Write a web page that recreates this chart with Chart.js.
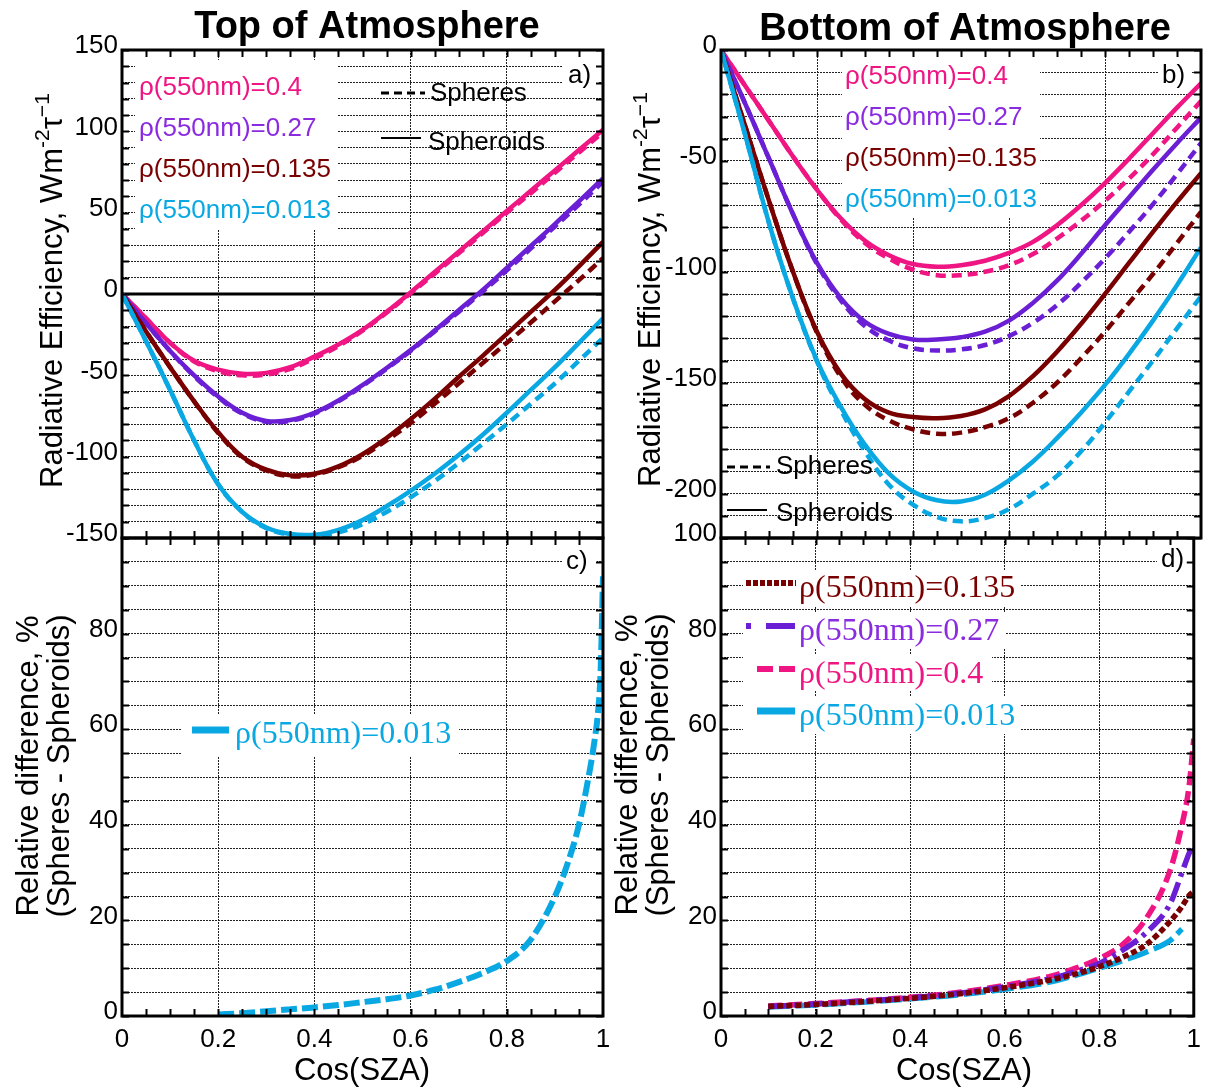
<!DOCTYPE html>
<html>
<head>
<meta charset="utf-8">
<title>Radiative efficiency vs Cos(SZA)</title>
<script src="https://cdn.jsdelivr.net/npm/chart.js@4.4.1/dist/chart.umd.min.js"></script>
<style>
  body { margin: 0; background: #fff; }
  #wrap { position: relative; width: 1209px; height: 1088px; }
  #wrap canvas { position: absolute; left: 0; top: 0; }
</style>
</head>
<body>
<div id="wrap">
  <canvas id="toa" width="1209" height="1088"></canvas>
  <canvas id="boa" width="1209" height="1088"></canvas>
  <canvas id="diffToa" width="1209" height="1088"></canvas>
  <canvas id="diffBoa" width="1209" height="1088"></canvas>
</div>
<script>
// ---- data ----
const cosSza = [0, 0.05, 0.1, 0.15, 0.2, 0.25, 0.3, 0.35, 0.4, 0.45, 0.5, 0.55, 0.6, 0.65, 0.7, 0.75, 0.8, 0.85, 0.9, 0.95, 1];

// Top of atmosphere efficiency, W m-2 per unit AOD
const toaSpheroidPink    = [0, -15, -30, -41, -46.5, -49, -48.5, -45, -38.5, -31, -22, -11, 1, 13.5, 26, 38.5, 51, 63.5, 76, 88.5, 101];
const toaSpherePink      = [0, -15, -30, -41.5, -47.5, -50, -49.5, -46, -39.5, -32, -22.5, -11.5, 0.5, 12.5, 25, 37.5, 50, 62, 74.5, 87, 99.5];
const toaSpheroidPurple  = [0, -18, -35, -50, -63, -73, -78, -77.5, -73, -65.5, -56, -45.5, -34.5, -22.5, -10, 2.5, 16, 29.5, 43, 57, 71];
const toaSpherePurple    = [0, -18, -35, -50.5, -63.5, -73.5, -78.5, -78, -73.5, -66, -56.5, -46, -35, -23, -11, 1.5, 14.5, 28, 41.5, 55, 69];
const toaSpheroidDarkred = [0, -23, -45, -66, -85, -100, -108, -111.5, -110.5, -106, -98.5, -88.5, -77, -64.5, -51, -38, -24.5, -11, 2.5, 17, 32];
const toaSphereDarkred   = [0, -23, -45, -66, -85.5, -100.5, -108.5, -112, -111, -106.5, -99.5, -90, -79.5, -67.5, -55, -42.5, -30, -17.5, -4.5, 8.5, 22];
const toaSpheroidCyan    = [0, -29, -59, -90, -117, -134, -143.5, -147.5, -148, -145, -139, -130.5, -121, -110.5, -99, -86.5, -73, -59, -45, -30, -15];
const toaSphereCyan      = [0, -29, -59, -90, -117, -134, -144, -148, -149, -146.5, -141.5, -134, -125, -115, -104, -92, -80, -67.5, -55, -41, -27];

// Bottom of atmosphere efficiency
const boaSpheroidPink    = [0, -16, -32, -48, -63, -76, -86, -92.5, -96.5, -97.7, -97, -95, -91.5, -86.5, -79, -70, -60, -49, -37.5, -26, -15];
const boaSpherePink      = [0, -16, -32, -48, -63, -76.5, -87, -94, -99, -101.5, -101.5, -100, -97, -92, -85, -77, -68, -58, -47, -35, -23];
const boaSpheroidPurple  = [0, -24, -49, -74, -96, -112, -122.5, -128, -130.5, -130.5, -129.5, -127, -122, -114, -104, -92, -79, -66.5, -54, -42, -30.5];
const boaSpherePurple    = [0, -24, -49, -74, -96.5, -113, -124.5, -131, -134.5, -135.5, -135, -133, -129, -123, -115, -105, -94, -82, -69.5, -56, -42];
const boaSpheroidDarkred = [0, -34, -68, -100, -127, -146, -157.5, -163.5, -165.5, -166, -165, -162, -156, -147, -136, -123.5, -110, -96, -82, -68.5, -55.5];
const boaSphereDarkred   = [0, -34, -68, -100, -127.5, -147.5, -160, -167, -171, -173, -172.5, -170, -166, -159, -150, -139, -127, -114, -101, -87, -73];
const boaSpheroidCyan    = [0, -38, -78, -112, -140, -161, -178, -191, -199, -203, -203.5, -200.5, -194, -185.5, -175, -163.5, -151, -137, -122, -106, -89];
const boaSphereCyan      = [0, -38, -78, -112, -140.5, -162.5, -181, -196, -205, -210.5, -212.5, -211, -207, -200, -192, -181, -168, -154, -140, -125.5, -111];

// Relative difference (spheres - spheroids), %
const cosDiffToa  = [0.2, 0.25, 0.3, 0.35, 0.4, 0.45, 0.5, 0.55, 0.6, 0.65, 0.7, 0.75, 0.8, 0.85, 0.9, 0.925, 0.95, 0.97, 0.98, 0.99, 0.995, 1];
const diffToaCyan = [0.3, 0.6, 1.0, 1.4, 1.8, 2.3, 2.9, 3.5, 4.3, 5.5, 7.1, 9.0, 11.5, 16, 25, 31.5, 40, 50, 56, 64, 72, 92];

const cosDiffBoa     = [0.1, 0.2, 0.3, 0.4, 0.5, 0.6, 0.7, 0.75, 0.8, 0.85, 0.9, 0.95, 0.975, 0.99, 1];
const diffBoaDarkred = [2.0, 2.4, 3.0, 3.7, 4.6, 5.9, 7.6, 8.8, 10.3, 12.3, 15, 19.8, 22.9, 25.2, 26];
const diffBoaPurple  = [2.0, 2.5, 3.1, 3.8, 4.7, 6.1, 7.9, 9.3, 11, 13.8, 17.5, 23.5, 30, 34, 36];
const diffBoaPink    = [2.1, 2.6, 3.2, 3.9, 4.9, 6.4, 8.4, 10, 12, 15, 20.5, 30.5, 40, 48, 58];
const diffBoaCyan    = [1.9, 2.3, 2.9, 3.6, 4.4, 5.6, 7.2, 8.5, 10, 11.6, 13.4, 15.8, 18.2, null, null];

// tick labels
const cosTickLabels  = [0, 0.2, 0.4, 0.6, 0.8, 1];
const toaYLabels     = [150, 100, 50, 0, -50, -100, -150];
const boaYLabels     = [0, -50, -100, -150, -200];
const diffToaYLabels = [0, 20, 40, 60, 80];
const diffBoaYLabels = [0, 20, 40, 60, 80, 100];

const albedoNames = ["ρ(550nm)=0.4", "ρ(550nm)=0.27", "ρ(550nm)=0.135", "ρ(550nm)=0.013"];

// ---- styles ----
const SANS = '"Liberation Sans", Arial, Helvetica, sans-serif';
const SERIF = '"Liberation Serif", "Times New Roman", serif';
const PINK = "#ef1583", PURPLE = "#6a1fd5", DARKRED = "#790000", CYAN = "#0aa8e2";
const PURPLE_TEXT = "#8b2be0";
const SPHERE_DASH = [10, 6];

Chart.defaults.font.family = SANS;
Chart.defaults.color = "#000";

const PAGE_W = 1209, PAGE_H = 1088;
const Y_AXIS_W = 122, X_AXIS_H = 72;

function curve(xs, ys, color, extra) {
  return Object.assign({
    data: xs.map((x, i) => ({ x: x, y: ys[i] })),
    borderColor: color,
    borderWidth: 4.5,
    borderDash: [],
    borderCapStyle: "butt",
    fill: false,
    pointRadius: 0,
    tension: 0.4
  }, extra || {});
}

// text pieces drawn left to right, optionally rotated to read bottom-up
function drawParts(ctx, t) {
  ctx.save();
  ctx.translate(t.x, t.y);
  if (t.rotate) ctx.rotate(-Math.PI / 2);
  ctx.textBaseline = "alphabetic";
  ctx.textAlign = "left";
  const parts = t.parts || [{ text: t.text, font: t.font }];
  let total = 0;
  parts.forEach(p => { ctx.font = p.font || t.font; total += ctx.measureText(p.text).width; });
  let cx = t.align === "center" ? -total / 2 : 0;
  parts.forEach(p => {
    ctx.font = p.font || t.font;
    ctx.fillStyle = t.color || "#000";
    ctx.fillText(p.text, cx, -(p.rise || 0));
    cx += ctx.measureText(p.text).width;
  });
  ctx.restore();
}

function panelDecor(p) {
  return {
    id: "panelDecor",
    beforeDatasetsDraw(chart) {
      const ctx = chart.ctx;
      const a = chart.chartArea;
      ctx.save();
      ctx.fillStyle = "#fff";
      (p.boxes || []).forEach(b => ctx.fillRect(b[0], b[1], b[2] - b[0], b[3] - b[1]));
      if (p.zeroLine) {
        const y0 = chart.scales.y.getPixelForValue(0);
        ctx.strokeStyle = "#000";
        ctx.lineWidth = 3;
        ctx.beginPath();
        ctx.moveTo(a.left, y0);
        ctx.lineTo(a.right, y0);
        ctx.stroke();
      }
      ctx.restore();
    },
    afterDraw(chart) {
      const ctx = chart.ctx;
      const a = chart.chartArea;
      const xs = chart.scales.x, ys = chart.scales.y;
      ctx.save();
      ctx.strokeStyle = "#000";
      // minor ticks along top and bottom, ticks at every y grid line
      ctx.lineWidth = 2;
      ctx.beginPath();
      for (let k = 1; k < 20; k++) {
        const px = Math.round(xs.getPixelForValue(k / 20)) + 0.5;
        ctx.moveTo(px, a.top); ctx.lineTo(px, a.top + 7);
        ctx.moveTo(px, a.bottom); ctx.lineTo(px, a.bottom - 7);
      }
      ys.ticks.forEach(t => {
        const py = Math.round(ys.getPixelForValue(t.value)) + 0.5;
        ctx.moveTo(a.left, py); ctx.lineTo(a.left + 7, py);
        ctx.moveTo(a.right, py); ctx.lineTo(a.right - 7, py);
      });
      ctx.stroke();
      // frame
      ctx.lineWidth = 3;
      ctx.strokeRect(a.left, a.top, a.right - a.left, a.bottom - a.top);
      // legend samples
      (p.samples || []).forEach(s => {
        ctx.strokeStyle = s.color;
        ctx.lineWidth = s.width;
        ctx.setLineDash(s.dash || []);
        ctx.beginPath();
        ctx.moveTo(s.x1, s.y);
        ctx.lineTo(s.x2, s.y);
        ctx.stroke();
      });
      ctx.setLineDash([]);
      ctx.restore();
      (p.texts || []).forEach(t => drawParts(ctx, t));
    }
  };
}

function drawPanel(id, p) {
  return new Chart(document.getElementById(id), {
    type: "line",
    data: { datasets: p.datasets },
    options: {
      responsive: false,
      animation: false,
      devicePixelRatio: 1,
      layout: {
        padding: {
          left: p.area.left - Y_AXIS_W,
          top: p.area.top,
          right: PAGE_W - p.area.right,
          bottom: PAGE_H - p.area.bottom - (p.xLabels ? X_AXIS_H : 0)
        }
      },
      plugins: { legend: { display: false }, tooltip: { enabled: false } },
      scales: {
        x: {
          type: "linear",
          min: 0,
          max: 1,
          afterFit: s => { s.height = p.xLabels ? X_AXIS_H : 0; },
          grid: { color: "#222", lineWidth: 1, drawTicks: false },
          border: { display: false, dash: [2, 1] },
          ticks: {
            display: p.xLabels,
            stepSize: 0.2,
            autoSkip: false,
            maxRotation: 0,
            padding: 8,
            font: { size: 26 },
            callback: v => {
              const r = Math.round(v * 10) / 10;
              return cosTickLabels.includes(r) ? String(r) : "";
            }
          }
        },
        y: {
          type: "linear",
          min: p.yMin,
          max: p.yMax,
          afterFit: s => { s.width = Y_AXIS_W; },
          grid: { color: "#222", lineWidth: 1, drawTicks: false },
          border: { display: false, dash: [2, 1] },
          ticks: {
            stepSize: p.yStep,
            autoSkip: false,
            padding: 4,
            labelOffset: -4,
            font: { size: 26 },
            callback: v => (p.yLabels.includes(v) ? String(v) : "")
          }
        }
      }
    },
    plugins: [panelDecor(p)]
  });
}

const TITLE_FONT = "bold 38px " + SANS;
const AXIS_FONT = "31px " + SANS;
const SUP_FONT = "21px " + SANS;
const LEG_FONT = "26px " + SANS;
const SERIF_FONT = "32px " + SERIF;

function efficiencyTitle(x, y) {
  return {
    x: x, y: y, rotate: true, font: AXIS_FONT,
    parts: [
      { text: "Radiative Efficiency, Wm", font: AXIS_FONT },
      { text: "-2", font: SUP_FONT, rise: 13 },
      { text: "τ", font: AXIS_FONT },
      { text: "−1", font: SUP_FONT, rise: 13 }
    ]
  };
}

// (a) top of atmosphere
drawPanel("toa", {
  area: { left: 122, top: 50, right: 603, bottom: 538 },
  xLabels: false,
  yMin: -150, yMax: 150, yStep: 10, yLabels: toaYLabels,
  zeroLine: true,
  datasets: [
    curve(cosSza, toaSpheroidCyan, CYAN),
    curve(cosSza, toaSphereCyan, CYAN, { borderDash: SPHERE_DASH }),
    curve(cosSza, toaSpheroidDarkred, DARKRED),
    curve(cosSza, toaSphereDarkred, DARKRED, { borderDash: SPHERE_DASH }),
    curve(cosSza, toaSpheroidPurple, PURPLE),
    curve(cosSza, toaSpherePurple, PURPLE, { borderDash: SPHERE_DASH }),
    curve(cosSza, toaSpheroidPink, PINK),
    curve(cosSza, toaSpherePink, PINK, { borderDash: SPHERE_DASH })
  ],
  boxes: [[135, 60, 338, 229], [563, 60, 598, 92]],
  samples: [
    { x1: 381, x2: 425, y: 93, color: "#000", width: 3, dash: [8, 5] },
    { x1: 381, x2: 421, y: 138, color: "#000", width: 2 }
  ],
  texts: [
    { text: "Top of Atmosphere", x: 367, y: 38, font: TITLE_FONT, align: "center" },
    efficiencyTitle(62, 488),
    { text: albedoNames[0], x: 139, y: 95, font: LEG_FONT, color: PINK },
    { text: albedoNames[1], x: 139, y: 136, font: LEG_FONT, color: PURPLE_TEXT },
    { text: albedoNames[2], x: 139, y: 177, font: LEG_FONT, color: DARKRED },
    { text: albedoNames[3], x: 139, y: 218, font: LEG_FONT, color: CYAN },
    { text: "Spheres", x: 430, y: 101, font: LEG_FONT },
    { text: "Spheroids", x: 428, y: 150, font: LEG_FONT },
    { text: "a)", x: 568, y: 83, font: LEG_FONT }
  ]
});

// (b) bottom of atmosphere
drawPanel("boa", {
  area: { left: 721, top: 50, right: 1201, bottom: 538 },
  xLabels: false,
  yMin: -220, yMax: 0, yStep: 10, yLabels: boaYLabels,
  datasets: [
    curve(cosSza, boaSpheroidCyan, CYAN),
    curve(cosSza, boaSphereCyan, CYAN, { borderDash: SPHERE_DASH }),
    curve(cosSza, boaSpheroidDarkred, DARKRED),
    curve(cosSza, boaSphereDarkred, DARKRED, { borderDash: SPHERE_DASH }),
    curve(cosSza, boaSpheroidPurple, PURPLE),
    curve(cosSza, boaSpherePurple, PURPLE, { borderDash: SPHERE_DASH }),
    curve(cosSza, boaSpheroidPink, PINK),
    curve(cosSza, boaSpherePink, PINK, { borderDash: SPHERE_DASH })
  ],
  boxes: [[842, 56, 1040, 218], [1158, 58, 1192, 92]],
  samples: [
    { x1: 727, x2: 770, y: 467, color: "#000", width: 3, dash: [8, 5] },
    { x1: 727, x2: 767, y: 510, color: "#000", width: 2 }
  ],
  texts: [
    { text: "Bottom of Atmosphere", x: 965, y: 40, font: TITLE_FONT, align: "center" },
    efficiencyTitle(660, 487),
    { text: albedoNames[0], x: 845, y: 84, font: LEG_FONT, color: PINK },
    { text: albedoNames[1], x: 845, y: 125, font: LEG_FONT, color: PURPLE_TEXT },
    { text: albedoNames[2], x: 845, y: 166, font: LEG_FONT, color: DARKRED },
    { text: albedoNames[3], x: 845, y: 207, font: LEG_FONT, color: CYAN },
    { text: "Spheres", x: 776, y: 474, font: LEG_FONT },
    { text: "Spheroids", x: 776, y: 521, font: LEG_FONT },
    { text: "b)", x: 1162, y: 83, font: LEG_FONT }
  ]
});

// (c) relative difference at top of atmosphere
drawPanel("diffToa", {
  area: { left: 122, top: 538, right: 603, bottom: 1016 },
  xLabels: true,
  yMin: 0, yMax: 100, yStep: 5, yLabels: diffToaYLabels,
  datasets: [
    curve(cosDiffToa, diffToaCyan, CYAN, { borderWidth: 6, borderDash: [16, 5], tension: 0, cubicInterpolationMode: "monotone" })
  ],
  boxes: [[182, 714, 459, 757], [562, 546, 597, 578]],
  samples: [
    { x1: 192, x2: 229, y: 730, color: CYAN, width: 7 }
  ],
  texts: [
    { text: "Relative difference, %", x: 38, y: 766, rotate: true, font: AXIS_FONT, align: "center" },
    { text: "(Spheres - Spheroids)", x: 69, y: 766, rotate: true, font: AXIS_FONT, align: "center" },
    { text: "Cos(SZA)", x: 362, y: 1080, font: AXIS_FONT, align: "center" },
    { text: albedoNames[3], x: 235, y: 743, font: SERIF_FONT, color: CYAN },
    { text: "c)", x: 566, y: 569, font: LEG_FONT }
  ]
});

// (d) relative difference at bottom of atmosphere
const DOT_DASH = [6, 3];
const DASH_DOT = [20, 6, 4, 6];
const PINK_DASH = [14, 6];
const LONG_DASH = [22, 6];
const boaDiffStyle = { borderWidth: 5.5, tension: 0, cubicInterpolationMode: "monotone" };
drawPanel("diffBoa", {
  area: { left: 721, top: 538, right: 1201, bottom: 1016 },
  xLabels: true,
  yMin: 0, yMax: 100, yStep: 5, yLabels: diffBoaYLabels,
  datasets: [
    curve(cosDiffBoa, diffBoaDarkred, DARKRED, Object.assign({ borderDash: DOT_DASH }, boaDiffStyle)),
    curve(cosDiffBoa, diffBoaPurple, PURPLE, Object.assign({ borderDash: DASH_DOT }, boaDiffStyle)),
    curve(cosDiffBoa, diffBoaPink, PINK, Object.assign({ borderDash: PINK_DASH }, boaDiffStyle)),
    curve(cosDiffBoa, diffBoaCyan, CYAN, Object.assign({ borderDash: LONG_DASH }, boaDiffStyle))
  ],
  boxes: [
    [743, 570, 1020, 606], [743, 612, 1006, 648],
    [743, 654, 992, 690], [743, 696, 1020, 734], [1157, 544, 1193, 576]
  ],
  samples: [
    { x1: 746, x2: 796, y: 583, color: DARKRED, width: 6, dash: [5, 2] },
    { x1: 746, x2: 751, y: 626, color: PURPLE, width: 6 },
    { x1: 766, x2: 795, y: 626, color: PURPLE, width: 6 },
    { x1: 757, x2: 795, y: 669, color: PINK, width: 6, dash: [16, 6] },
    { x1: 757, x2: 795, y: 711, color: CYAN, width: 7 }
  ],
  texts: [
    { text: "Relative difference, %", x: 637, y: 765, rotate: true, font: AXIS_FONT, align: "center" },
    { text: "(Spheres - Spheroids)", x: 668, y: 765, rotate: true, font: AXIS_FONT, align: "center" },
    { text: "Cos(SZA)", x: 964, y: 1080, font: AXIS_FONT, align: "center" },
    { text: albedoNames[2], x: 799, y: 597, font: SERIF_FONT, color: DARKRED },
    { text: albedoNames[1], x: 799, y: 640, font: SERIF_FONT, color: PURPLE_TEXT },
    { text: albedoNames[0], x: 799, y: 683, font: SERIF_FONT, color: PINK },
    { text: albedoNames[3], x: 799, y: 725, font: SERIF_FONT, color: CYAN },
    { text: "d)", x: 1161, y: 567, font: LEG_FONT }
  ]
});
</script>
</body>
</html>
